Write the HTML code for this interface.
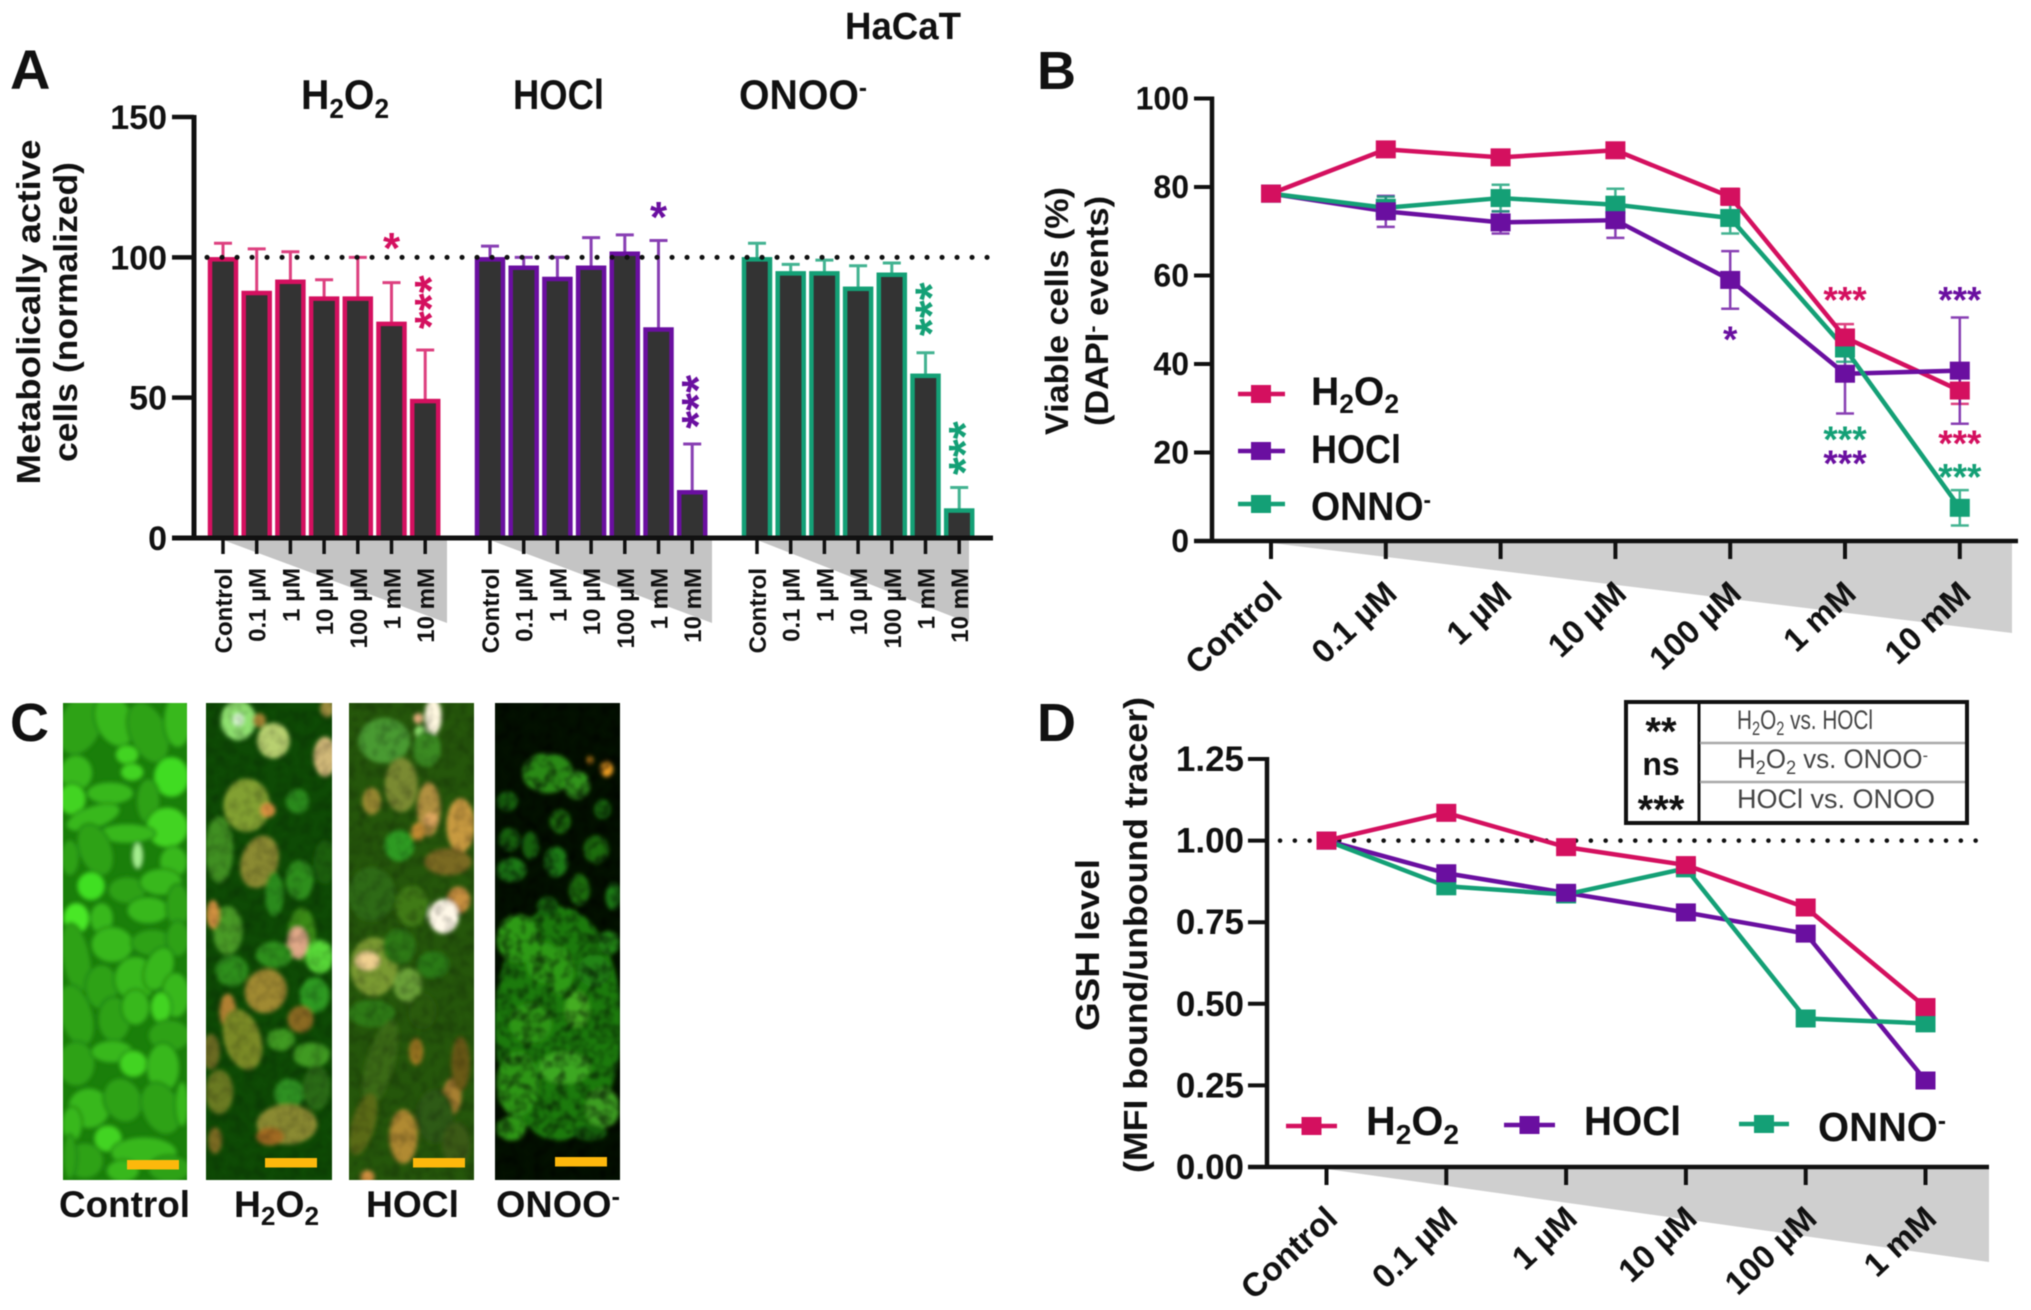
<!DOCTYPE html>
<html lang="en">
<head>
<meta charset="utf-8">
<title>HaCaT oxidant response figure</title>
<style>
html,body{margin:0;padding:0;background:#fff;width:2031px;height:1310px;overflow:hidden}
svg{display:block;filter:blur(.55px)}
text{font-family:"Liberation Sans",Arial,sans-serif;font-weight:bold;fill:#111}
.t{fill:#444;font-weight:normal;font-size:27px}
</style>
</head>
<body>
<svg id="fig" xmlns="http://www.w3.org/2000/svg" width="2031" height="1310" viewBox="0 0 2031 1310">
<defs>
<filter id="cellblur" x="-5%" y="-5%" width="110%" height="110%"><feGaussianBlur stdDeviation="2.2"/></filter>
<filter id="mottle" x="0" y="0" width="100%" height="100%"><feTurbulence type="fractalNoise" baseFrequency=".09" numOctaves="2" seed="4"/><feColorMatrix type="matrix" values="0 0 0 0 0  0 0 0 0 0  0 0 0 0 0  2.4 0 0 0 -0.95"/><feGaussianBlur stdDeviation="1"/></filter>
<clipPath id="clipPhoto0"><rect x="63" y="703" width="124" height="477"/></clipPath>
<clipPath id="clipPhoto1"><rect x="206" y="703" width="126" height="477"/></clipPath>
<clipPath id="clipPhoto2"><rect x="349" y="703" width="125" height="477"/></clipPath>
<clipPath id="clipPhoto3"><rect x="495" y="703" width="125" height="477"/></clipPath>
</defs>
<rect width="2031" height="1310" fill="#fff"/>

<g id="photos"></g>

<text x="845" y="39" font-size="38" textLength="116" lengthAdjust="spacingAndGlyphs">HaCaT</text>
<text x="10" y="89" font-size="56">A</text>
<text x="1037" y="89" font-size="54">B</text>
<text x="10" y="741" font-size="54">C</text>
<text x="1037" y="741" font-size="54">D</text>

<text x="301" y="109" font-size="42" textLength="88" lengthAdjust="spacingAndGlyphs">H<tspan dy="9" font-size="28">2</tspan><tspan dy="-9">O</tspan><tspan dy="9" font-size="28">2</tspan></text>
<text x="513" y="109" font-size="42" textLength="91" lengthAdjust="spacingAndGlyphs">HOCl</text>
<text x="739" y="109" font-size="42" textLength="128" lengthAdjust="spacingAndGlyphs">ONOO<tspan dy="-13" font-size="26">-</tspan></text>

<text transform="translate(40,312) rotate(-90)" text-anchor="middle" font-size="33" textLength="345" lengthAdjust="spacingAndGlyphs">Metabolically active</text>
<text transform="translate(77,312) rotate(-90)" text-anchor="middle" font-size="33" textLength="300" lengthAdjust="spacingAndGlyphs">cells (normalized)</text>
<text transform="translate(1068,311) rotate(-90)" text-anchor="middle" font-size="32" textLength="248" lengthAdjust="spacingAndGlyphs">Viable cells (%)</text>
<text transform="translate(1108,311) rotate(-90)" text-anchor="middle" font-size="32" textLength="230" lengthAdjust="spacingAndGlyphs">(DAPI<tspan dy="-9" font-size="20">-</tspan><tspan dy="9"> events)</tspan></text>
<text transform="translate(1099,945) rotate(-90)" text-anchor="middle" font-size="33" textLength="172" lengthAdjust="spacingAndGlyphs">GSH level</text>
<text transform="translate(1147,935) rotate(-90)" text-anchor="middle" font-size="33" textLength="476" lengthAdjust="spacingAndGlyphs">(MFI bound/unbound tracer)</text>

<g id="chartA"></g>
<g id="chartB"></g>
<g id="chartD"></g>

<g>
  <text x="1311" y="405" font-size="40" textLength="88" lengthAdjust="spacingAndGlyphs">H<tspan dy="8" font-size="27">2</tspan><tspan dy="-8">O</tspan><tspan dy="8" font-size="27">2</tspan></text>
  <text x="1311" y="463" font-size="40" textLength="90" lengthAdjust="spacingAndGlyphs">HOCl</text>
  <text x="1311" y="520" font-size="40" textLength="120" lengthAdjust="spacingAndGlyphs">ONNO<tspan dy="-12" font-size="24">-</tspan></text>
</g>
<g>
  <text x="1366" y="1135" font-size="41" textLength="93" lengthAdjust="spacingAndGlyphs">H<tspan dy="9" font-size="28">2</tspan><tspan dy="-9">O</tspan><tspan dy="9" font-size="28">2</tspan></text>
  <text x="1584" y="1135" font-size="41" textLength="97" lengthAdjust="spacingAndGlyphs">HOCl</text>
  <text x="1818" y="1141" font-size="41" textLength="128" lengthAdjust="spacingAndGlyphs">ONNO<tspan dy="-12" font-size="25">-</tspan></text>
</g>

<g>
  <rect x="1626" y="702" width="341" height="121" fill="#fff" stroke="#111" stroke-width="4"/>
  <line x1="1699" y1="702" x2="1699" y2="823" stroke="#111" stroke-width="3"/>
  <line x1="1700" y1="743" x2="1965" y2="743" stroke="#aaa" stroke-width="2.5"/>
  <line x1="1700" y1="782" x2="1965" y2="782" stroke="#aaa" stroke-width="2.5"/>
  <text x="1661" y="745" text-anchor="middle" font-size="40">**</text>
  <text x="1661" y="775" text-anchor="middle" font-size="32">ns</text>
  <text x="1661" y="823" text-anchor="middle" font-size="40">***</text>
  <text class="t" x="1737" y="729" textLength="136" lengthAdjust="spacingAndGlyphs">H<tspan dy="6" font-size="19">2</tspan><tspan dy="-6">O</tspan><tspan dy="6" font-size="19">2</tspan><tspan dy="-6"> vs. HOCl</tspan></text>
  <text class="t" x="1737" y="768" textLength="191" lengthAdjust="spacingAndGlyphs">H<tspan dy="6" font-size="19">2</tspan><tspan dy="-6">O</tspan><tspan dy="6" font-size="19">2</tspan><tspan dy="-6"> vs. ONOO</tspan><tspan dy="-7" font-size="17">-</tspan></text>
  <text class="t" x="1737" y="808" textLength="198" lengthAdjust="spacingAndGlyphs">HOCl vs. ONOO</text>
</g>

<text x="59" y="1217" font-size="37" textLength="131" lengthAdjust="spacingAndGlyphs">Control</text>
<text x="234" y="1217" font-size="37" textLength="85" lengthAdjust="spacingAndGlyphs">H<tspan dy="8" font-size="26">2</tspan><tspan dy="-8">O</tspan><tspan dy="8" font-size="26">2</tspan></text>
<text x="366" y="1217" font-size="37" textLength="93" lengthAdjust="spacingAndGlyphs">HOCl</text>
<text x="496" y="1217" font-size="37" textLength="124" lengthAdjust="spacingAndGlyphs">ONOO<tspan dy="-12" font-size="25">-</tspan></text>

<script>
/* ===== Chart data ===== */
const doseLabelsA = ['Control','0.1 µM','1 µM','10 µM','100 µM','1 mM','10 mM'];
const doseLabelsB = ['Control','0.1 µM','1 µM','10 µM','100 µM','1 mM','10 mM'];
const doseLabelsD = ['Control','0.1 µM','1 µM','10 µM','100 µM','1 mM'];
const ticksA = [0,50,100,150];
const ticksB = [0,20,40,60,80,100];
const ticksD = [0,0.25,0.5,0.75,1,1.25];

const barsH2O2 = [100,88,92,86,86,77,49.5];
const barsHOCl = [100,97,93,97,102,75,17];
const barsONOO = [100,95,95,89.5,94.5,58.5,10.5];
const errTopH2O2 = [105,103,102,92,100,91,67];
const errTopHOCl = [104,100,100,107,108,106,33.5];
const errTopONOO = [105,97.5,99,97,98,66,18];

const viableH2O2 = [78.5,88.5,86.7,88.3,77.8,46,34];
const viableHOCl = [78.5,74.5,72,72.5,59,37.8,38.5];
const viableONOO = [78.5,75.3,77.5,76,73,43.5,7.5];
const viableErrH2O2 = [0.5,1,1,1,1.8,3,3];
const viableErrHOCl = [0.5,3.5,2.5,4,6.5,9,12];
const viableErrONOO = [0.5,2.5,3,3.6,3.5,3,4];

const gshH2O2 = [1,1.085,0.98,0.925,0.795,0.49];
const gshHOCl = [1,0.9,0.84,0.78,0.715,0.265];
const gshONOO = [1,0.86,0.835,0.915,0.455,0.44];

/* significance marks: group, dose index, value height, label */
const starGroupA = [0,0,1,1,2,2];
const starIndexA = [5,6,5,6,5,6];
const starValueA = [105.5,84,116.5,48.5,81.5,32];
const starTextA = ['*','***','*','***','***','***'];
const starSeriesB = [0,1,1,2,1,0,2];
const starIndexB = [5,6,4,5,5,6,6];
const starValueB = [55.5,55.5,46.5,24,18.5,23,15.5];
const starTextB = ['***','***','*','***','***','***','***'];

const pink = '#d4105f';
const purple = '#6a0fa0';
const green = '#14a076';
const seriesColors = [pink,purple,green];
const seriesNames = ['h2o2','hocl','onoo'];

/* ===== Helpers ===== */
const NS = 'http://www.w3.org/2000/svg';
function mk(parent, tag, attrs, txt){
  const e = document.createElementNS(NS, tag);
  for (const k in attrs) e.setAttribute(k, attrs[k]);
  if (txt !== undefined) e.textContent = txt;
  parent.appendChild(e);
  return e;
}

/* ===== Panel A ===== */
const gA = document.getElementById('chartA');
const y0A = 538, unitA = (538-117)/150;
function yA(v){ return y0A - v*unitA; }
function xA(g,i){ return 223 + g*267 + i*33.7; }
const barsA = [barsH2O2,barsHOCl,barsONOO];
const errA = [errTopH2O2,errTopHOCl,errTopONOO];
const wedgeRightA = [447,712,969];

barsA.forEach(function(vals,g){
  let w = mk(gA,'polygon',{points:[xA(g,0),y0A+2,wedgeRightA[g],y0A+2,wedgeRightA[g],623].join(' '),fill:'#c4c4c4'});
  
  
  vals.forEach(function(v,i){
    const cx = xA(g,i);
    const eb = mk(gA,'path',{d:'M'+cx+' '+yA(v)+'V'+yA(errA[g][i])+'M'+(cx-9)+' '+yA(errA[g][i])+'H'+(cx+9),stroke:seriesColors[g],'stroke-width':3,fill:'none',opacity:.8});
    
    
    const r = mk(gA,'rect',{x:cx-13,y:yA(v)+2,width:26,height:y0A-yA(v)-2,fill:'#333',stroke:seriesColors[g],'stroke-width':4.5});
    
    
    const tk = mk(gA,'line',{x1:cx,x2:cx,y1:y0A,y2:y0A+16,stroke:'#111','stroke-width':3.5});
    
    
    const lb = mk(gA,'text',{transform:'translate('+(cx+9)+',568) rotate(-90)','text-anchor':'end','font-size':24},doseLabelsA[i]);
    
    
  });
});
const refA = mk(gA,'line',{x1:207,x2:988,y1:yA(100),y2:yA(100),stroke:'#111','stroke-width':5,'stroke-linecap':'round','stroke-dasharray':'0.1 14.9'});


const axAy = mk(gA,'line',{x1:194,x2:194,y1:yA(150)-2,y2:y0A+2,stroke:'#111','stroke-width':5});


const axAx = mk(gA,'line',{x1:172,x2:993,y1:y0A,y2:y0A,stroke:'#111','stroke-width':5});


ticksA.forEach(function(t){
  const l = mk(gA,'line',{x1:172,x2:194,y1:yA(t),y2:yA(t),stroke:'#111','stroke-width':4.5});
  
  
  const s = mk(gA,'text',{x:167,y:yA(t)+12,'text-anchor':'end','font-size':34},String(t));
  
  
});
starTextA.forEach(function(s,k){
  const g = starGroupA[k];
  const cx = xA(g,starIndexA[k]);
  const cy = yA(starValueA[k]);
  let st;
  if (s.length > 1) st = mk(gA,'text',{transform:'translate('+(cx+22)+','+cy+') rotate(-90)','text-anchor':'middle','font-size':46,style:'fill:'+seriesColors[g]},s);
  else st = mk(gA,'text',{x:cx,y:cy+21,'text-anchor':'middle','font-size':44,style:'fill:'+seriesColors[g]},s);
  
  
});

/* ===== Line chart drawing ===== */
function square(g,cx,cy,c){
  const q = mk(g,'rect',{x:cx-10,y:cy-9,width:20,height:18,fill:c});
  return q;
}
function drawLines(g,seriesList,errList,xf,yf,name){
  seriesList.forEach(function(vals,s){
    const c = seriesColors[s];
    if (errList) vals.forEach(function(v,i){
      const e = errList[s][i];
      const cx = xf(i);
      const eb = mk(g,'path',{d:'M'+cx+' '+yf(v+e)+'V'+yf(v-e)+'M'+(cx-9)+' '+yf(v+e)+'H'+(cx+9)+'M'+(cx-9)+' '+yf(v-e)+'H'+(cx+9),stroke:c,'stroke-width':2.5,fill:'none',opacity:.8});
      
      
    });
    const pts = vals.map(function(v,i){ return xf(i)+','+yf(v); }).join(' ');
    const ln = mk(g,'polyline',{points:pts,fill:'none',stroke:c,'stroke-width':4.5,'stroke-linejoin':'round'});
    
    
  });
  [2,1,0].forEach(function(s){
    seriesList[s].forEach(function(v,i){
      const q = square(g,xf(i),yf(v),seriesColors[s]);
      
      
    });
  });
}

/* ===== Panel B ===== */
const gB = document.getElementById('chartB');
const y0B = 541, unitB = (541-98.5)/100;
function yB(v){ return y0B - v*unitB; }
function xB(i){ return 1271 + i*114.8; }
const wedgeB = mk(gB,'polygon',{points:[xB(0),y0B+2,2012,y0B+2,2012,633].join(' '),fill:'#cfcfcf'});


drawLines(gB,[viableH2O2,viableHOCl,viableONOO],[viableErrH2O2,viableErrHOCl,viableErrONOO],xB,yB,'b');
const axBy = mk(gB,'line',{x1:1212,x2:1212,y1:yB(100)-2,y2:y0B+2,stroke:'#111','stroke-width':4.5});


const axBx = mk(gB,'line',{x1:1194,x2:2018,y1:y0B,y2:y0B,stroke:'#111','stroke-width':4.5});


ticksB.forEach(function(t){
  const l = mk(gB,'line',{x1:1194,x2:1212,y1:yB(t),y2:yB(t),stroke:'#111','stroke-width':4});
  
  
  const s = mk(gB,'text',{x:1189,y:yB(t)+11,'text-anchor':'end','font-size':32},String(t));
  
  
});
doseLabelsB.forEach(function(lab,i){
  const l = mk(gB,'line',{x1:xB(i),x2:xB(i),y1:y0B,y2:y0B+18,stroke:'#111','stroke-width':4});
  
  
  const s = mk(gB,'text',{transform:'translate('+(xB(i)+13)+',596) rotate(-43)','text-anchor':'end','font-size':33},lab);
  
  
});
starTextB.forEach(function(s,k){
  const cx = xB(starIndexB[k]);
  const st = mk(gB,'text',{x:cx+0,y:yB(starValueB[k])+17,'text-anchor':'middle','font-size':37,style:'fill:'+seriesColors[starSeriesB[k]]},s);
  
  
});
[394,451,504].forEach(function(ly,s){
  const l = mk(gB,'line',{x1:1238,x2:1285,y1:ly,y2:ly,stroke:seriesColors[s],'stroke-width':4.5});
  
  
  const q = square(gB,1261,ly,seriesColors[s]);
  
  
});

/* ===== Panel D ===== */
const gD = document.getElementById('chartD');
const y0D = 1167, unitD = (1167-759)/1.25;
function yD(v){ return y0D - v*unitD; }
function xD(i){ return 1326.5 + i*119.8; }
const wedgeD = mk(gD,'polygon',{points:[xD(0),y0D+2,1989,y0D+2,1989,1262].join(' '),fill:'#cfcfcf'});


const refD = mk(gD,'line',{x1:1280,x2:1978,y1:yD(1),y2:yD(1),stroke:'#111','stroke-width':4.5,'stroke-linecap':'round','stroke-dasharray':'0.1 14.7'});


drawLines(gD,[gshH2O2,gshHOCl,gshONOO],null,xD,yD,'d');
const axDy = mk(gD,'line',{x1:1267,x2:1267,y1:yD(1.25)-2,y2:y0D+2,stroke:'#111','stroke-width':4.5});


const axDx = mk(gD,'line',{x1:1248,x2:1989,y1:y0D,y2:y0D,stroke:'#111','stroke-width':4.5});


ticksD.forEach(function(t){
  const l = mk(gD,'line',{x1:1248,x2:1267,y1:yD(t),y2:yD(t),stroke:'#111','stroke-width':4});
  
  
  const s = mk(gD,'text',{x:1244,y:yD(t)+12,'text-anchor':'end','font-size':35},t.toFixed(2));
  
  
});
doseLabelsD.forEach(function(lab,i){
  const l = mk(gD,'line',{x1:xD(i),x2:xD(i),y1:y0D,y2:y0D+18,stroke:'#111','stroke-width':4});
  
  
  const s = mk(gD,'text',{transform:'translate('+(xD(i)+13)+',1221) rotate(-43)','text-anchor':'end','font-size':33},lab);
  
  
});
[[1286,1337,1126],[1504,1555,1125],[1739,1789,1124]].forEach(function(p,s){
  const l = mk(gD,'line',{x1:p[0],x2:p[1],y1:p[2],y2:p[2],stroke:seriesColors[s],'stroke-width':4.5});
  
  
  const q = square(gD,(p[0]+p[1])/2,p[2],seriesColors[s]);
  
  
});

/* ===== Panel C (microscopy, hand-placed cell blobs) ===== */
const gP = document.getElementById('photos');
const photoBoxes = [[63,124,'#1a7f0a','photo-control',0,1.12,0,'#17780a',4],[206,126,'#0e4a05','photo-h2o2',-1,1.1,.18,'none',0],[349,125,'#25560b','photo-hocl',-1,1.12,.2,'none',0],[495,125,'#031000','photo-onoo',-3,1,.55,'none',0]];
const G='#38b81a',H='#42d420',D='#2fa215';
const photoCells = [
[[190,110,45,70,20,D],[270,100,40,60,-20,G],[350,130,40,70,-20,D],[420,100,30,60,0,G],[180,230,35,40,0,G],[300,185,25,22,0,H],[312,228,25,20,0,H],[405,240,38,45,0,'#3fdc20'],[170,295,30,35,0,H],[260,280,50,25,0,G],[350,300,25,50,0,D],[220,340,60,25,-20,G],[395,365,45,45,0,H],[300,380,60,22,0,G],[225,420,35,60,-20,D],[410,450,30,35,0,G],[165,440,20,40,0,D],[300,520,40,30,0,D],[380,500,45,30,0,G],[215,510,30,32,0,'#3fe020'],[325,435,12,30,0,'#a5f090'],[180,590,28,35,0,'#48e828'],[240,590,25,35,0,G],[350,570,45,30,0,G],[420,560,25,50,0,D],[180,690,30,80,-10,D],[265,655,45,40,0,G],[360,650,45,30,0,D],[420,640,25,40,0,D],[240,760,35,50,0,D],[320,740,45,50,0,G],[375,715,30,50,20,G],[415,780,30,50,0,G],[180,830,35,70,-15,D],[270,840,35,50,0,D],[320,810,30,40,0,G],[380,810,22,35,0,H],[400,880,45,35,0,D],[180,950,40,50,0,D],[265,920,45,25,0,G],[315,950,30,30,0,H],[385,960,35,55,0,G],[210,1060,45,45,20,G],[290,1040,40,50,-20,D],[380,1060,40,60,-20,D],[430,1050,15,50,0,G],[170,1100,22,40,0,G],[255,1135,30,30,0,H],[340,1170,70,35,0,G],[200,1190,40,40,0,D],[400,1210,45,30,0,D],[290,1215,35,25,0,G],[165,1180,15,50,0,D]],
[[565,100,38,45,0,'#8fe070'],[565,98,12,14,0,'#d8f8d0'],[648,150,35,40,0,'#b8d070'],[770,190,25,45,0,'#d0b878'],[775,70,15,20,0,'#a09040'],[615,100,14,16,0,'#a08030'],[585,310,50,60,0,'#82a030'],[705,300,25,28,0,'#2a8a1a'],[635,322,16,16,0,'#d89040'],[520,420,30,75,0,'#3f8f20'],[615,450,40,60,15,'#8a8a30'],[710,495,30,45,0,'#2f8f1f'],[650,530,20,50,0,'#2a8a1a'],[540,620,32,55,0,'#4a9a28'],[505,580,14,32,0,'#d09040'],[715,630,30,60,0,'#3a8a18'],[705,650,22,35,0,'#e0a888'],[757,685,30,38,0,'#58d838'],[650,680,40,30,0,'#2f8f1f'],[550,720,35,35,0,'#2f8f1f'],[630,770,45,50,15,'#a08a30'],[745,780,32,40,0,'#2f9a20'],[540,820,18,40,0,'#b08030'],[712,840,28,30,0,'#8a6a20'],[575,890,40,70,-15,'#7a8a28'],[665,890,30,25,0,'#3f9a20'],[738,928,40,28,0,'#3f9a20'],[520,1020,30,50,0,'#6a7a20'],[685,1025,32,35,0,'#2f9020'],[750,1010,30,50,0,'#2a6a15'],[680,1100,65,45,0,'#8a8a30'],[500,920,20,40,0,'#6a6a20'],[640,1130,30,20,0,'#a06a20'],[510,1140,15,30,0,'#7a6a20'],[770,450,25,50,0,'#1a5f0c']],
[[910,150,55,50,0,'#4a9a30'],[1025,90,18,40,0,'#fff8e0'],[990,95,10,12,0,'#e8b080'],[995,128,12,14,0,'#90e070'],[1010,170,30,40,0,'#3a8a20'],[950,260,35,60,0,'#7a8a30'],[880,300,20,30,0,'#9a8a30'],[1015,320,25,60,0,'#b09040'],[1090,360,30,60,0,'#c89a40'],[945,410,32,35,0,'#2f9a20'],[990,375,15,20,0,'#c08a30'],[1020,345,15,15,0,'#e0a860'],[1060,450,50,30,0,'#7a6a20'],[880,530,50,60,0,'#2f6a15'],[975,560,35,45,0,'#3f7a18'],[1085,545,25,30,0,'#c89040'],[1050,585,32,38,0,'#fff8e8'],[885,710,50,65,0,'#7a9a30'],[870,695,25,20,0,'#f0d090'],[945,660,35,40,0,'#2f7a18'],[965,755,30,38,0,'#6aa038'],[1025,705,35,30,0,'#2a7a18'],[880,825,50,30,0,'#2f7a18'],[1000,820,30,40,0,'#2a5a10'],[900,950,30,100,15,'#3a6a18'],[985,920,15,30,0,'#a07a20'],[1070,1030,20,40,0,'#a88030'],[955,1130,30,60,0,'#b08a30'],[1090,950,20,60,0,'#6a5a18'],[1030,1080,40,60,0,'#2f5a12'],[860,1100,25,70,15,'#5a6a18'],[870,1230,15,15,0,'#d09040'],[1080,1150,30,50,0,'#3a5a15']],
[[1325,850,150,290,0,'#1c7a10'],[1300,230,60,50,0,'#2a8a18'],[1370,260,30,35,0,'#33941c'],[1440,220,15,20,0,'#e89a24'],[1400,198,8,10,0,'#b87a14'],[1205,300,25,25,0,'#17600e'],[1330,350,25,30,0,'#1a6c10'],[1430,320,20,25,0,'#17600e'],[1210,395,25,30,0,'#17600e'],[1260,410,20,35,0,'#17600e'],[1415,420,30,35,0,'#1a6c10'],[1320,450,28,38,0,'#1f7a12'],[1215,470,35,30,0,'#1f7a12'],[1375,520,25,40,0,'#1a6c10'],[1455,535,18,35,0,'#1f7a12'],[1300,560,25,25,0,'#17600e'],[1230,640,50,60,0,'#2e9a18'],[1290,700,40,50,0,'#2e9a18'],[1445,650,25,30,0,'#228412'],[1370,815,28,45,0,'#44ad24'],[1330,720,30,60,0,'#2e9a18'],[1230,1000,50,80,0,'#2e9616'],[1430,1060,40,50,0,'#3e9e22'],[1340,960,60,40,0,'#3ea824'],[1260,850,50,50,0,'#2e9616'],[1410,720,40,40,0,'#228412'],[1215,1110,35,30,0,'#2e9616'],[1400,1120,40,20,0,'#17600e']]
];
const scaleBars = [[127,1160],[265,1158],[413,1158],[555,1157]];
photoBoxes.forEach(function(b,idx){
  const holder = mk(gP,'g',{'clip-path':'url(#clipPhoto'+idx+')'});
  
  
  const back = mk(holder,'rect',{x:b[0],y:703,width:b[1],height:477,fill:b[2]});
  
  
  const blur = mk(holder,'g',{filter:'url(#cellblur)'});
  
  
  const sc = mk(blur,'g',{transform:'translate('+b[4]+',680) scale(.4235,.404)'});
  photoCells[idx].forEach(function(c){
    const grow = b[5];
    const e = mk(sc,'ellipse',{cx:c[0],cy:c[1],rx:c[2]*grow,ry:c[3]*grow,fill:c[5],stroke:b[7],'stroke-width':b[8],transform:'rotate('+c[4]+' '+c[0]+' '+c[1]+')'});
    
    
  });
  const tex = mk(holder,'rect',{x:b[0],y:703,width:b[1],height:477,filter:'url(#mottle)',opacity:b[6]});
  
  
  const bar = mk(holder,'rect',{x:scaleBars[idx][0],y:scaleBars[idx][1],width:52,height:9.5,fill:'#fdb80c'});
  
  
});
</script>
</svg>
</body>
</html>
